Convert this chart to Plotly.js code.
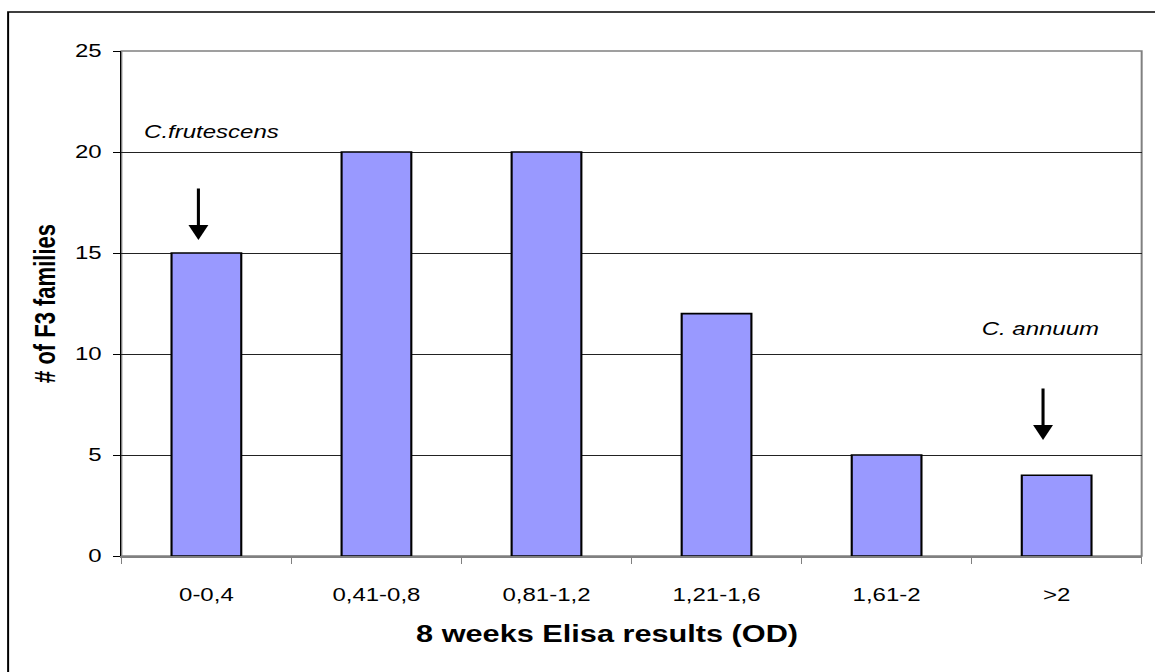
<!DOCTYPE html>
<html><head><meta charset="utf-8">
<script src="https://cdn.plot.ly/plotly-3.0.1.min.js"></script>
<style>
html,body{margin:0;padding:0;background:#fff;overflow:hidden;width:1155px;height:672px}
#chart{width:866px;height:672px;transform:scaleX(1.33372);transform-origin:0 0}
</style>
</head><body><div id="chart"></div>
<script>
const categories = ["0-0,4", "0,41-0,8", "0,81-1,2", "1,21-1,6", "1,61-2", ">2"];
const families = [15, 20, 20, 12, 5, 4];
const yTicks = [0, 5, 10, 15, 20, 25];
const xTitle = "8 weeks Elisa results (OD)";
const yTitle = "# of F3 families";
const labelFrutescens = "C.frutescens";
const labelAnnuum = "C. annuum";

const font = "Liberation Sans, Arial, sans-serif";
const trace = {
  type: "bar", x: categories, y: families,
  width: 0.41,
  marker: {color: "#9999FF", line: {color: "#000", width: 1.6}},
  hoverinfo: "x+y"
};
const layout = {
  width: 866, height: 672,
  margin: {l: 91, r: 10, t: 51, b: 116},
  paper_bgcolor: "#fff", plot_bgcolor: "#fff",
  showlegend: false,
  font: {family: font, size: 18, color: "#000"},
  xaxis: {
    type: "category", showline: true, linecolor: "#808080", linewidth: 1.5,
    ticks: "outside", tickson: "boundaries", ticklen: 6, tickcolor: "#808080", tickwidth: 1,
    ticklabelstandoff: 22, showgrid: false, range: [-0.5, 5.5]
  },
  yaxis: {
    range: [0, 25], tickvals: yTicks, showline: true, linecolor: "#000", linewidth: 1.2,
    ticks: "outside", ticklen: 5, tickcolor: "#000", tickwidth: 1, ticklabelstandoff: 5,
    showgrid: true, gridcolor: "#222", gridwidth: 1, zeroline: false,
    title: {text: "<b>" + yTitle + "</b>", font: {size: 22}, standoff: 8}
  },
  shapes: [
    {type: "rect", xref: "paper", yref: "paper", x0: 0, x1: 1, y0: 0, y1: 1,
     line: {color: "#808080", width: 1.5}, layer: "below"},
    {type: "rect", xref: "paper", yref: "paper", x0: -0.111, x1: 1.2, y0: -0.5, y1: 1.0772,
     line: {color: "#000", width: 1.5}, layer: "below"}
  ],
  annotations: [
    {x: 0.4755, y: -0.1545, xref: "paper", yref: "paper", xanchor: "center", yanchor: "middle",
     showarrow: false, text: "<b>" + xTitle + "</b>", font: {size: 23}},
    {x: -0.047, y: 15.64, ax: -0.047, ay: 18.27, axref: "x", ayref: "y", xref: "x", yref: "y",
     showarrow: true, arrowhead: 2, arrowsize: 1.3, arrowwidth: 2.3, arrowcolor: "#000", text: ""},
    {x: 4.92, y: 5.74, ax: 4.92, ay: 8.37, axref: "x", ayref: "y", xref: "x", yref: "y",
     showarrow: true, arrowhead: 2, arrowsize: 1.3, arrowwidth: 2.3, arrowcolor: "#000", text: ""},
    {x: 0.03, y: 21.0, xref: "x", yref: "y", showarrow: false, text: "<i>" + labelFrutescens + "</i>",
     font: {size: 18}},
    {x: 4.9, y: 11.24, xref: "x", yref: "y", showarrow: false, text: "<i>" + labelAnnuum + "</i>",
     font: {size: 18}}
  ]
};
Plotly.newPlot("chart", [trace], layout, {displayModeBar: false, staticPlot: true});
</script></body></html>
